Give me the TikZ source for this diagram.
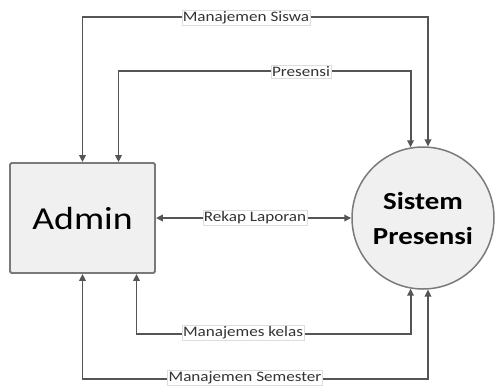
\documentclass[tikz,border=0pt]{standalone}
\usepackage{fontspec}
\setmainfont{Carlito}
\newfontfamily\lblfont[FakeStretch=1.18]{Carlito}
\usetikzlibrary{arrows.meta}
\definecolor{linec}{HTML}{555555}
\definecolor{boxfill}{HTML}{F0F0F0}
\definecolor{boxline}{HTML}{7A7A7A}
\definecolor{lblline}{HTML}{DDDDDD}
\tikzset{
  flow/.style={draw=linec, line width=1.9pt, {Triangle[length=7pt,width=6.5pt]}-{Triangle[length=7pt,width=6.5pt]}},
  lbl/.style={fill=white, draw=lblline, line width=0.6pt, inner xsep=1pt, inner ysep=1.5pt, text=black!80, font=\lblfont\fontsize{14.5}{16}\selectfont},
  entity/.style={draw=boxline, line width=1.8pt, fill=boxfill, rounded corners=1.5pt, minimum width=145pt, minimum height=110pt, inner sep=0pt, font=\lblfont\fontsize{32}{36}\selectfont},
  proc/.style={circle, draw=boxline, line width=1.5pt, fill=boxfill, minimum size=142pt, inner sep=0pt, align=center, font=\lblfont\fontsize{24.5}{35}\selectfont\bfseries}
}
\begin{document}
\begin{tikzpicture}[x=1pt,y=-1pt]
\useasboundingbox (0,0) rectangle (497,389);
\node[entity] (admin) at (82.5,218) {Admin};
\node[proc] (sp) at (423,218) {Sistem\\Presensi};
% top connectors
\draw[flow] (admin.north) -- ++(0,-145) -| (sp.86.8);
\draw[flow] ([xshift=36pt]admin.north) -- ++(0,-91) -| (sp.100.5);
% middle
\draw[flow] (admin.east) -- (sp.west);
% bottom connectors
\draw[flow] ([xshift=54pt]admin.south) -- ++(0,60) -| (sp.260.3);
\draw[flow] (admin.south) -- ++(0,105) -| (sp.274);
% labels
\node[lbl] (l1) at (246,18) {Manajemen Siswa};
\node[lbl] (l2) at (301,72) {Presensi};
\node[lbl] (l3) at (255,218) {Rekap Laporan};
\node[lbl] (l4) at (243,333) {Manajemes kelas};
\node[lbl] (l5) at (245,378) {Manajemen Semester};
\end{tikzpicture}
\end{document}
